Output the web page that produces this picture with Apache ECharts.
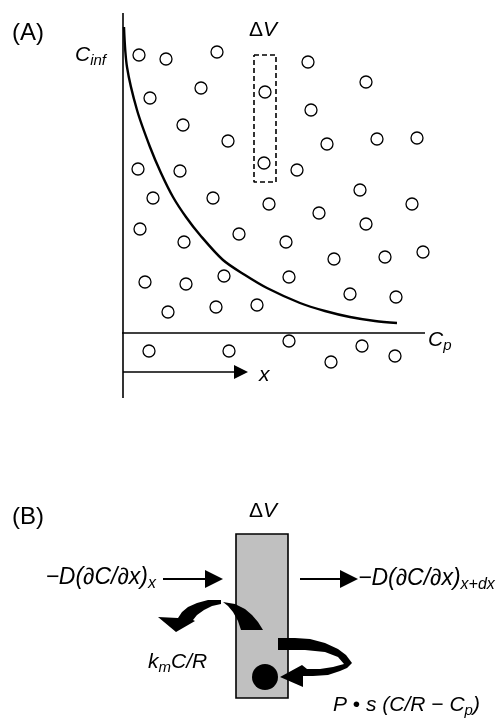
<!DOCTYPE html>
<html><head><meta charset="utf-8">
<script src="https://cdn.jsdelivr.net/npm/echarts@6/dist/echarts.min.js"></script>
<style>html,body{margin:0;padding:0;background:#fff}#c{width:501px;height:718px}</style>
</head><body><div id="c"></div>
<script>
// ---------- Panel A data ----------
const openCircles = [
  [139,55],[166,59],[217,52],[201,88],[150,98],[183,125],[228,141],[138,169],[180,171],
  [265,92],[264,163],
  [308,62],[366,82],[311,110],[327,144],[377,139],[417,138],[297,170],[360,190],
  [153,198],[213,198],[269,204],[412,204],[319,213],[366,224],
  [140,229],[184,242],[239,234],[286,242],[334,259],[385,257],[423,252],
  [145,282],[186,284],[224,276],[289,277],[350,294],[396,297],
  [168,312],[216,307],[257,305],
  [149,351],[229,351],[289,341],[331,362],[362,346],[395,356]
];
const decayCurve = [[124,27],[127,67],[137,110],[150,147],[161,173],[173,197],[186,217],[200,235],[223,260],[245,275],[267,288],[300,303],[325,311],[350,317],[375,321],[397,323]];
const verticalAxisA = [[123,13],[123,398]];
const horizontalAxisA = [[122,333],[425,333]];
const xArrowShaft = [[123,372],[236,372]];
const xArrowHead = [[234,365],[248,372],[234,379]];
const dashedBox = [[254,55],[276,55],[276,182],[254,182],[254,55]];

// ---------- Panel B data ----------
const volumeBox = [[236,534],[288,534],[288,698],[236,698]];
const inArrowShaft = [[163,579],[207,579]];
const inArrowHead = [[205,570],[223,579],[205,588]];
const outArrowShaft = [[300,579],[342,579]];
const outArrowHead = [[340,570],[358,579],[340,588]];
const leftCrescent = [[223,602],[235,604],[245,609],[252,615],[258,622],[263,630],[241,630],[238,621],[233,612],[228,606]];
const leftCurvedArrow = [[221,600],[208,600],[197,603],[188,607],[182,612],[178,618],[158,617],[176,632],[195,621],[193,620],[197,615],[204,610],[212,606],[221,604]];
const rightCurvedArrow = [[278,638],[295,638],[310,639],[325,643],[338,649],[346,655],[352,663],[347,668],[340,671],[328,675],[313,676],[303,676],[303,687],[280,677],[302,665],[307,669],[320,669],[333,667],[344,664],[338,657],[325,652],[305,650],[278,650]];
const boundDot = [[265,677]];

// ---------- Text ----------
const FONT = 'Liberation Sans, Arial, sans-serif';
const texts = [
  {t:'(A)', p:[12,33], size:24},
  {t:'{n|Δ}{m|V}', p:[249,30]},
  {t:'{m|C}{s|inf}', p:[75,55]},
  {t:'{m|C}{s|p}', p:[428,340]},
  {t:'{m|x}', p:[259,375]},
  {t:'(B)', p:[12,517], size:24},
  {t:'{n|Δ}{m|V}', p:[249,511]},
  {t:'{M|−D(∂C/∂x)}{S|x}', p:[156,578], align:'right'},
  {t:'{M|−D(∂C/∂x)}{S|x+dx}', p:[358,579]},
  {t:'{m|k}{s|m}{m|C/R}', p:[148,662]},
  {t:'{m|P }{n|•}{m| s (C/R − C}{s|p}{m|)}', p:[333,705]}
];

const rich = {
  m:{fontFamily:FONT, fontStyle:'italic', fontSize:21, lineHeight:24, verticalAlign:'middle', fill:'#000'},
  n:{fontFamily:FONT, fontStyle:'normal', fontSize:21, lineHeight:24, verticalAlign:'middle', fill:'#000'},
  s:{fontFamily:FONT, fontStyle:'italic', fontSize:15, lineHeight:15, padding:[11,0,0,0], verticalAlign:'middle', fill:'#000'},
  M:{fontFamily:FONT, fontStyle:'italic', fontSize:23, lineHeight:26, verticalAlign:'middle', fill:'#000'},
  S:{fontFamily:FONT, fontStyle:'italic', fontSize:16, lineHeight:16, padding:[12,0,0,0], verticalAlign:'middle', fill:'#000'}
};

function polygonSeries(polys, style, z){
  return {type:'custom', coordinateSystem:'cartesian2d', silent:true, animation:false, z:z,
    data: polys.map(p=>p[0]),
    renderItem:(params, api)=>({type:'polygon', shape:{points: polys[params.dataIndex].map(q=>api.coord(q))}, style:Object.assign({}, style)})};
}
function lineSeries(pts, width, z, extra){
  return Object.assign({type:'line', data:pts, symbol:'none', silent:true, animation:false, z:z,
    lineStyle:{color:'#000', width:width}}, extra||{});
}

const chart = echarts.init(document.getElementById('c'), null, {renderer:'canvas'});
chart.setOption({
  backgroundColor:'#fff',
  animation:false,
  grid:{left:0,right:0,top:0,bottom:0,containLabel:false},
  xAxis:{type:'value', min:0, max:501, show:false},
  yAxis:{type:'value', min:0, max:718, inverse:true, show:false},
  series:[
    lineSeries(verticalAxisA, 1.6, 2),
    lineSeries(horizontalAxisA, 1.6, 2),
    lineSeries(xArrowShaft, 1.6, 2),
    lineSeries(decayCurve, 2.4, 2, {smooth:0.3}),
    lineSeries(dashedBox, 1.6, 2, {lineStyle:{color:'#000', width:1.6, type:[5,3]}}),
    polygonSeries([xArrowHead], {fill:'#000'}, 3),
    {type:'scatter', data:openCircles, symbol:'circle', symbolSize:12, silent:true, animation:false, z:5,
      itemStyle:{color:'#fff', borderColor:'#000', borderWidth:1.3, opacity:1}},
    polygonSeries([volumeBox], {fill:'#c0c0c0', stroke:'#000', lineWidth:1.6}, 1),
    lineSeries(inArrowShaft, 2, 2),
    lineSeries(outArrowShaft, 2, 2),
    polygonSeries([inArrowHead, outArrowHead, leftCrescent, leftCurvedArrow, rightCurvedArrow], {fill:'#000'}, 3),
    {type:'scatter', data:boundDot, symbol:'circle', symbolSize:26, silent:true, animation:false, z:4,
      itemStyle:{color:'#000', opacity:1}},
    {type:'custom', coordinateSystem:'cartesian2d', silent:true, animation:false, z:10,
      data: texts.map(d=>d.p),
      renderItem:(params, api)=>{
        const d = texts[params.dataIndex];
        const c = api.coord(d.p);
        return {type:'text', x:c[0], y:c[1], style:{
          text:d.t, rich:rich, fill:'#000', fontFamily:FONT, fontSize:d.size||21, fontStyle:'normal',
          align:d.align||'left', verticalAlign:'middle'}};
      }}
  ]
});
</script></body></html>
